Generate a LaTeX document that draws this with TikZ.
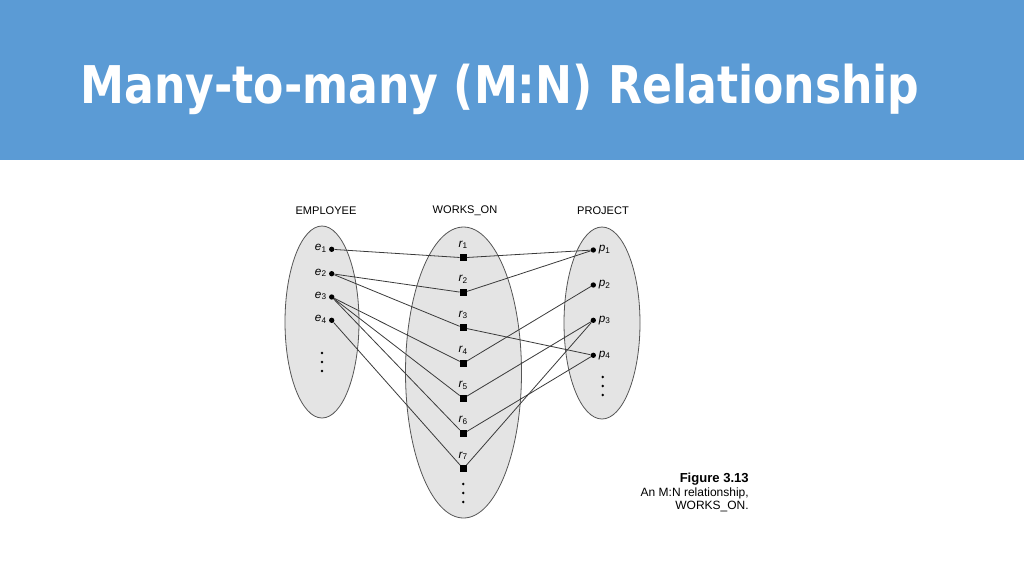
\documentclass[tikz,border=0pt]{standalone}
\usepackage{fontspec}
\usepackage{graphicx}
\setmainfont{Liberation Sans}
\newfontfamily\titlefont{DejaVu Sans Condensed}
\definecolor{headblue}{HTML}{5B9BD5}
\definecolor{setfill}{HTML}{E4E4E4}
\definecolor{setline}{HTML}{555555}
\definecolor{linkcol}{HTML}{3A3A3A}
\tikzset{
  setshape/.style={ellipse, draw=setline, fill=setfill, line width=0.6pt, inner sep=0pt},
  dotnode/.style={circle, fill=black, inner sep=0pt, minimum size=4pt},
  sqnode/.style={rectangle, fill=black, inner sep=0pt, minimum size=5pt},
  smalldot/.style={circle, fill=black, inner sep=0pt, minimum size=2pt},
  link/.style={draw=linkcol, line width=0.6pt},
  lbl/.style={font=\fontsize{8.8}{10}\selectfont, inner sep=0pt},
  head/.style={font=\fontsize{8.3}{10}\selectfont, inner sep=0pt}
}
\usetikzlibrary{shapes.geometric}
\begin{document}
\begin{tikzpicture}[x=0.75pt,y=-0.75pt]
\useasboundingbox (0,0) rectangle (1024,576);
\fill[headblue] (0,0) rectangle (1024,160);
\node[anchor=base west, text=white, inner sep=0pt, font=\titlefont\bfseries\fontsize{39}{44}\selectfont] (title) at (80,103) {\scalebox{0.944}[1]{Many-to-many (M:N) Relationship}};

% sets
\node[setshape, minimum width=74*0.75pt, minimum height=192*0.75pt] (emp) at (322,322) {};
\node[setshape, minimum width=116*0.75pt, minimum height=291*0.75pt] (wo) at (463.5,372.5) {};
\node[setshape, minimum width=76*0.75pt, minimum height=192*0.75pt] (proj) at (602,323) {};

\node[head] (hemp) at (326,210.5) {EMPLOYEE};
\node[head] (hwo) at (465,210.5) {WORKS\_ON};
\node[head] (hproj) at (603,210.5) {PROJECT};

% employees
\foreach \i/\y in {1/249.3,2/273.7,3/297,4/320.3}{
  \node[dotnode] (e\i) at (331.7,\y) {};
  \node[lbl, anchor=east] (le\i) at (327,\y-1) {\itshape e\textsubscript{\upshape\i}};
}
\foreach \i/\y in {1/353,2/362,3/371}{\node[smalldot] (ed\i) at (322,\y) {};}

% relationship instances
\foreach \i/\y in {1/257.7,2/292.6,3/327.8,4/363.2,5/398.3,6/433.6,7/468.7}{
  \node[sqnode] (r\i) at (463.3,\y) {};
  \node[lbl] (lr\i) at (463.3,\y-13) {\itshape r\textsubscript{\upshape\i}};
}
\foreach \i/\y in {1/484,2/493,3/502}{\node[smalldot] (rd\i) at (463.3,\y) {};}

% projects
\foreach \i/\y in {1/250,2/285,3/320.3,4/355.3}{
  \node[dotnode] (p\i) at (593.3,\y) {};
  \node[lbl, anchor=west] (lp\i) at (598.5,\y) {\itshape p\textsubscript{\upshape\i}};
}
\foreach \i/\y in {1/377,2/386,3/395}{\node[smalldot] (pd\i) at (602.7,\y) {};}

% links
\draw[link] (e1) -- (r1);
\draw[link] (e2) -- (r2);
\draw[link] (e2) -- (r3);
\draw[link] (e3) -- (r4);
\draw[link] (e3) -- (r5);
\draw[link] (e3) -- (r6);
\draw[link] (e4) -- (r7);
\draw[link] (r1) -- (p1);
\draw[link] (r2) -- (p1);
\draw[link] (r3) -- (p4);
\draw[link] (r4) -- (p2);
\draw[link] (r5) -- (p3);
\draw[link] (r6) -- (p4);
\draw[link] (r7) -- (p3);

% caption
\node[anchor=north east, align=right, inner sep=0pt, font=\fontsize{9}{10.2}\selectfont] (cap) at (749,473)
  {{\fontsize{9.8}{10.2}\selectfont\textbf{Figure 3.13}}\\An M:N relationship,\\WORKS\_ON.};
\end{tikzpicture}
\end{document}
